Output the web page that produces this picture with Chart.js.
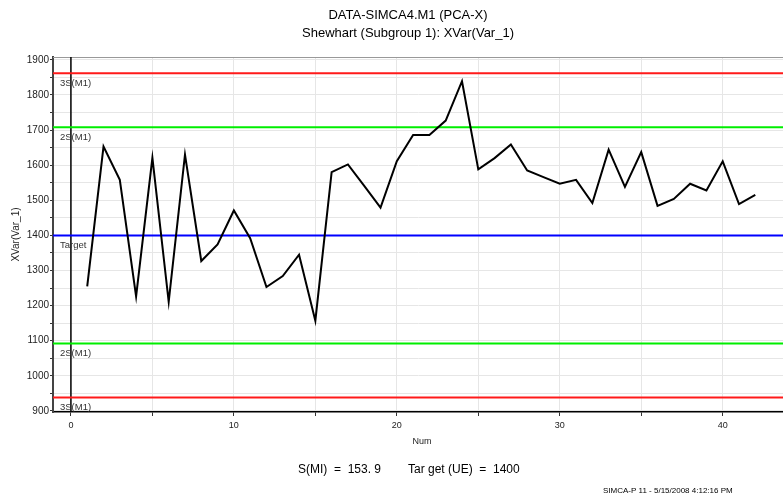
<!DOCTYPE html>
<html lang="en">
<head>
<meta charset="UTF-8">
<title>Shewhart XVar(Var_1)</title>
<script src="https://cdn.jsdelivr.net/npm/chart.js"></script>
<style>
    html, body { margin: 0; padding: 0; background: #fff; }
    .chart-container { width: 783px; height: 500px; }
</style>
</head>
<body>
<div class="chart-container">
    <canvas id="shewhart" width="783" height="500"></canvas>
</div>
<script>
// observation number and the plotted XVar(Var_1) value
const nums = [1, 2, 3, 4, 5, 6, 7, 8, 9, 10, 11, 12, 13, 14, 15, 16, 17, 18, 19, 20, 21,
              22, 23, 24, 25, 26, 27, 28, 29, 30, 31, 32, 33, 34, 35, 36, 37, 38, 39, 40, 41, 42];
const xvar = [1255, 1653, 1558, 1226, 1621, 1211, 1630, 1327, 1374, 1471, 1392, 1253, 1284, 1345,
              1157, 1580, 1602, 1541, 1479, 1611, 1686, 1686, 1727, 1839, 1588, 1620, 1659, 1585,
              1566, 1547, 1558, 1492, 1644, 1538, 1637, 1484, 1504, 1547, 1528, 1611, 1489, 1515];

// control limits
const limitNames = ['3S(M1)', '2S(M1)', 'Target', '2S(M1)', '3S(M1)'];
const limitValues = [1861.7, 1707.8, 1400, 1092.2, 938.3];
const limitColors = ['#ff1a1a', '#00ee00', '#0000ff', '#00ee00', '#ff1a1a'];

// tick positions (labels only on the round ones)
const xTicks = [0, 5, 10, 15, 20, 25, 30, 35, 40];
const xTickLabels = [0, 10, 20, 30, 40];
const yTicks = [900, 950, 1000, 1050, 1100, 1150, 1200, 1250, 1300, 1350, 1400, 1450,
                1500, 1550, 1600, 1650, 1700, 1750, 1800, 1850, 1900];
const yTickLabels = [900, 1000, 1100, 1200, 1300, 1400, 1500, 1600, 1700, 1800, 1900];

const xMin = -1.1, xMax = 43.7;
const yMin = 897, yMax = 1908;

const FONT = 'Liberation Sans, Arial, sans-serif';

const points = nums.map((n, i) => ({ x: n, y: xvar[i] }));

const datasets = [
    {
        label: 'XVar(Var_1)',
        data: points,
        borderColor: '#000',
        borderWidth: 2,
        pointRadius: 0,
        tension: 0
    }
];
limitValues.forEach((v, i) => {
    datasets.push({
        label: limitNames[i],
        data: [{ x: xMin, y: v }, { x: xMax, y: v }],
        borderColor: limitColors[i],
        borderWidth: 2,
        pointRadius: 0
    });
});
// vertical line through Num = 0
datasets.push({
    label: 'zero',
    data: [{ x: 0, y: yMin }, { x: 0, y: yMax }],
    borderColor: '#000',
    borderWidth: 1.5,
    pointRadius: 0
});

const textPlugin = {
    id: 'texts',
    beforeDatasetsDraw(chart) {
        const { ctx, chartArea } = chart;
        ctx.save();
        ctx.strokeStyle = '#999';
        ctx.lineWidth = 1;
        ctx.beginPath();
        ctx.moveTo(chartArea.left, chartArea.top + 0.5);
        ctx.lineTo(chartArea.right, chartArea.top + 0.5);
        ctx.stroke();
        ctx.restore();
    },
    afterDraw(chart) {
        const { ctx, chartArea } = chart;
        const y = chart.scales.y;
        ctx.save();
        ctx.fillStyle = '#000';
        ctx.textAlign = 'center';
        ctx.textBaseline = 'middle';
        ctx.font = '13px ' + FONT;
        ctx.fillText('DATA-SIMCA4.M1 (PCA-X)', 408, 15);
        ctx.fillText('Shewhart (Subgroup 1): XVar(Var_1)', 408, 33);

        // axis titles
        ctx.fillStyle = '#222';
        ctx.font = '9px ' + FONT;
        ctx.fillText('Num', 422, 442);
        ctx.save();
        ctx.font = '10px ' + FONT;
        ctx.translate(16, (chartArea.top + chartArea.bottom) / 2);
        ctx.rotate(-Math.PI / 2);
        ctx.fillText('XVar(Var_1)', 0, 0);
        ctx.restore();

        // limit labels
        ctx.textAlign = 'left';
        ctx.fillStyle = '#333';
        ctx.font = '9.5px ' + FONT;
        limitValues.forEach((v, i) => {
            ctx.fillText(limitNames[i], chartArea.left + 7, y.getPixelForValue(v) + 10);
        });

        // footer
        ctx.fillStyle = '#000';
        ctx.font = '12px ' + FONT;
        ctx.fillText('S(MI)  =  153. 9', 298, 470);
        ctx.fillText('Tar get (UE)  =  1400', 408, 470);
        ctx.font = '8px ' + FONT;
        ctx.fillText('SIMCA-P 11 - 5/15/2008 4:12:16 PM', 603, 491);
        ctx.restore();
    }
};

new Chart(document.getElementById('shewhart').getContext('2d'), {
    type: 'line',
    data: { datasets: datasets },
    plugins: [textPlugin],
    options: {
        responsive: false,
        animation: false,
        events: [],
        layout: { padding: { top: 57, left: 0, right: 0, bottom: 0 } },
        plugins: {
            legend: { display: false },
            tooltip: { enabled: false }
        },
        scales: {
            x: {
                type: 'linear',
                min: xMin,
                max: xMax,
                afterBuildTicks: (scale) => {
                    scale.ticks = xTicks.map(v => ({ value: v }));
                },
                afterFit: (scale) => { scale.height = 88; },
                ticks: {
                    autoSkip: false,
                    maxRotation: 0,
                    padding: 4,
                    color: '#222',
                    font: { family: FONT, size: 9 },
                    callback: (v) => (xTickLabels.includes(v) ? v : '')
                },
                grid: { color: '#e6e6e6', tickLength: 4, tickColor: '#333' },
                border: { color: '#000', width: 1.5 }
            },
            y: {
                min: yMin,
                max: yMax,
                afterBuildTicks: (scale) => {
                    scale.ticks = yTicks.map(v => ({ value: v }));
                },
                afterFit: (scale) => { scale.width = 53; },
                ticks: {
                    autoSkip: false,
                    padding: 1,
                    color: '#222',
                    font: { family: FONT, size: 10 },
                    callback: (v) => (yTickLabels.includes(v) ? v : '')
                },
                grid: { color: '#e6e6e6', tickLength: 3, tickColor: '#333' },
                border: { color: '#444', width: 2 }
            }
        }
    }
});
</script>
</body>
</html>
